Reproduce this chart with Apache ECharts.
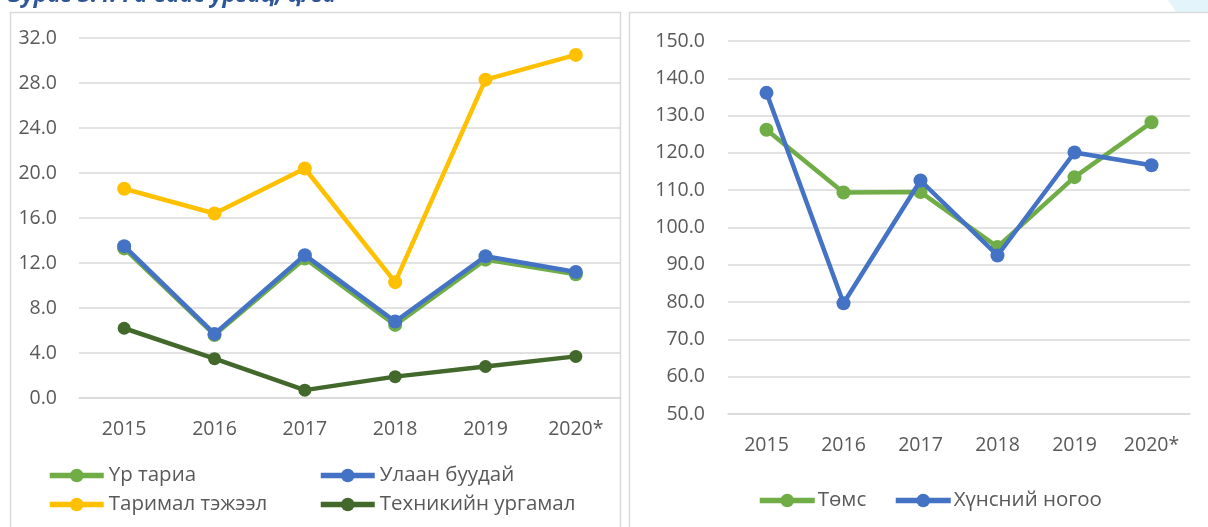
<!DOCTYPE html>
<html>
<head>
<meta charset="utf-8">
<script src="https://cdn.jsdelivr.net/npm/echarts@6/dist/echarts.min.js"></script>
<style>html,body{margin:0;padding:0;background:#fff;}#c{width:1208px;height:527px;}</style>
</head>
<body>
<div id="c"></div>
<script>
var years = ['2015', '2016', '2017', '2018', '2019', '2020*'];
var leftNames = ['Үр тариа', 'Улаан буудай', 'Таримал тэжээл', 'Техникийн ургамал'];
var urTaria = [13.3, 5.6, 12.4, 6.5, 12.3, 11.0];
var ulaanBuudai = [13.5, 5.7, 12.7, 6.8, 12.6, 11.2];
var tarimalTejeel = [18.6, 16.4, 20.4, 10.3, 28.3, 30.5];
var tekhnikiin = [6.2, 3.5, 0.7, 1.9, 2.8, 3.7];
var rightNames = ['Төмс', 'Хүнсний ногоо'];
var tums = [126.2, 109.4, 109.5, 94.8, 113.5, 128.2];
var khunsniiNogoo = [136.1, 79.7, 112.6, 92.5, 120.1, 116.7];
var leftTicks = {min: 0, max: 32, interval: 4};
var rightTicks = {min: 50, max: 150, interval: 10};
var titleText = 'Зураг 3.4: Га-гаас ургац, ц/га';

var FONT = "'Open Sans', sans-serif";
var TXT = '#595959';
var GRID = '#D9D9D9';
var FS = 19.5;
var LFS = 20.5;
var C = {green: '#70AD47', blue: '#4472C4', yellow: '#FFC000', dark: '#43682B'};

function yAxis(idx, t, margin) {
  return {
    type: 'value', gridIndex: idx, min: t.min, max: t.max, interval: t.interval,
    axisLine: {show: false}, axisTick: {show: false},
    splitLine: {lineStyle: {color: GRID, width: 1.5}},
    axisLabel: {color: TXT, fontSize: FS, fontFamily: FONT, margin: margin,
      formatter: function (v) { return v.toFixed(1); }}
  };
}
function xAxis(idx, margin) {
  return {
    type: 'category', gridIndex: idx, data: years, boundaryGap: true,
    axisLine: {show: true, lineStyle: {color: GRID, width: 1.5}}, axisTick: {show: false},
    axisLabel: {color: TXT, fontSize: FS, fontFamily: FONT, margin: margin}
  };
}
function line(name, data, color, idx, size, z) {
  return {
    type: 'line', name: name, data: data, xAxisIndex: idx, yAxisIndex: idx,
    symbol: 'circle', symbolSize: size, z: z,
    lineStyle: {color: color, width: 4.5}, itemStyle: {color: color},
    emphasis: {disabled: true}, animation: false
  };
}
function leg(name, left, top, w, pad) {
  return {
    data: [name], left: left, top: top, itemWidth: w, itemHeight: 17, itemGap: 0,
    padding: 0, selectedMode: false,
    lineStyle: {width: 5.5},
    textStyle: {color: TXT, fontSize: LFS, fontFamily: FONT, padding: [0, 0, 0, pad]}
  };
}

var chart = echarts.init(document.getElementById('c'), null, {renderer: 'canvas'});
chart.setOption({
  animation: false,
  backgroundColor: '#fff',
  grid: [
    {left: 79, right: 587, top: 38, bottom: 129},
    {left: 728, right: 18, top: 41, bottom: 113}
  ],
  xAxis: [xAxis(0, 21), xAxis(1, 21)],
  yAxis: [yAxis(0, leftTicks, 22), yAxis(1, rightTicks, 23)],
  legend: [
    leg(leftNames[0], 47, 465, 54, 0),
    leg(leftNames[1], 318, 465, 54, 0),
    leg(leftNames[2], 47, 494, 54, 0),
    leg(leftNames[3], 318, 494, 54, 0),
    leg(rightNames[0], 757, 490, 55, -2),
    leg(rightNames[1], 893, 490, 55, -2)
  ],
  series: [
    line(leftNames[0], urTaria, C.green, 0, 14, 2),
    line(leftNames[1], ulaanBuudai, C.blue, 0, 14, 3),
    line(leftNames[2], tarimalTejeel, C.yellow, 0, 14, 2),
    line(leftNames[3], tekhnikiin, C.dark, 0, 13, 2),
    line(rightNames[0], tums, C.green, 1, 14, 2),
    line(rightNames[1], khunsniiNogoo, C.blue, 1, 14, 3)
  ],
  graphic: [
    {type: 'polygon', silent: true, z: 0,
      shape: {points: [[1168, 0], [1208, 0], [1208, 12], [1176, 12]]},
      style: {fill: '#E3F5FB'}},
    {type: 'rect', silent: true, z: 10,
      shape: {x: 10.5, y: 12.5, width: 610, height: 540},
      style: {fill: 'none', stroke: GRID, lineWidth: 1.5}},
    {type: 'rect', silent: true, z: 10,
      shape: {x: 629.5, y: 12.5, width: 600, height: 540},
      style: {fill: 'none', stroke: GRID, lineWidth: 1.5}},
    {type: 'rect', silent: true, z: 9,
      shape: {x: 621.3, y: 13, width: 7.4, height: 520},
      style: {fill: '#fff'}},
    {type: 'text', silent: true, z: 10, left: 8, top: -16,
      style: {text: titleText, fill: '#2F5597',
        font: "italic bold 23px 'Open Sans', sans-serif"}}
  ]
});
</script>
</body>
</html>
